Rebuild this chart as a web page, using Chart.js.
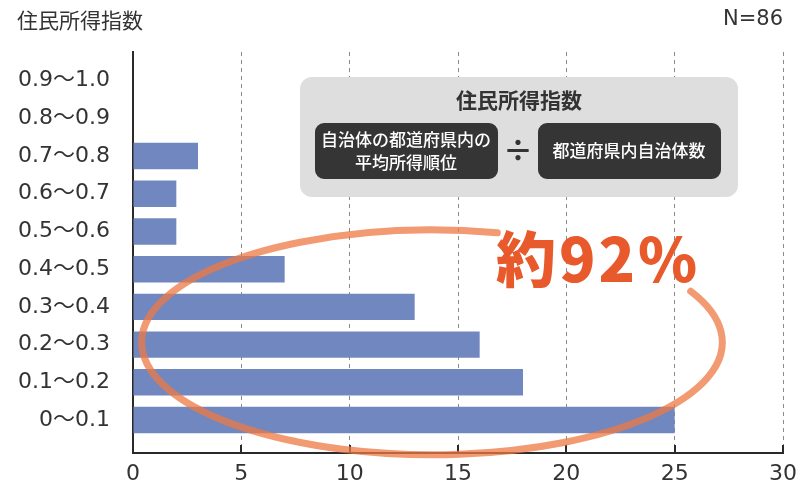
<!DOCTYPE html>
<html lang="ja">
<head>
<meta charset="UTF-8">
<title>住民所得指数</title>
<script src="https://cdn.jsdelivr.net/npm/chart.js@4.4.1/dist/chart.umd.min.js"></script>
<style>
  html, body { margin: 0; padding: 0; background: #fff; }
  #chart { display: block; }
</style>
</head>
<body>
<canvas id="chart" width="802" height="486"></canvas>
<script>
// 区分（下から順）
const categories = ['0～0.1', '0.1～0.2', '0.2～0.3', '0.3～0.4', '0.4～0.5',
                    '0.5～0.6', '0.6～0.7', '0.7～0.8', '0.8～0.9', '0.9～1.0'];
// 自治体数
const counts = [25, 18, 16, 13, 7, 2, 2, 3, 0, 0];
const xTicks = [0, 5, 10, 15, 20, 25, 30];

const titleText = '住民所得指数';
const sampleText = 'N=86';
const formulaTitle = '住民所得指数';
const formulaLeft = ['自治体の都道府県内の', '平均所得順位'];
const formulaRight = '都道府県内自治体数';
const shareText = '約92%';

const NUM_FONT = '"DejaVu Sans", "Noto Sans CJK JP", sans-serif';
const JP_FONT = '"Noto Sans CJK JP", sans-serif';
const TEXT = '#333';
const AXIS = '#2a2a2a';

// 目盛り・見出し・数式ボックス・楕円
const overlay = {
  id: 'overlay',
  afterDatasetsDraw(chart) {
    const ctx = chart.ctx;
    const xs = chart.scales.x;
    const ys = chart.scales.y;
    const area = chart.chartArea;
    ctx.save();

    // 内向きの目盛り
    ctx.strokeStyle = AXIS;
    ctx.lineWidth = 2;
    xs.ticks.forEach(t => {
      const px = Math.round(xs.getPixelForValue(t.value));
      ctx.beginPath();
      ctx.moveTo(px, area.bottom - 8);
      ctx.lineTo(px, area.bottom);
      ctx.stroke();
    });

    // 見出し
    ctx.fillStyle = TEXT;
    ctx.textBaseline = 'middle';
    ctx.font = '21px ' + JP_FONT;
    ctx.textAlign = 'left';
    ctx.fillText(titleText, 17, 20);
    ctx.font = '21px ' + NUM_FONT;
    ctx.textAlign = 'right';
    ctx.fillText(sampleText, 783, 20);

    // 数式ボックス
    ctx.fillStyle = '#dedede';
    ctx.beginPath();
    ctx.roundRect(300, 77, 438, 120, 12);
    ctx.fill();
    ctx.fillStyle = TEXT;
    ctx.textAlign = 'center';
    ctx.font = 'bold 21px ' + JP_FONT;
    ctx.fillText(formulaTitle, 519, 100);

    ctx.fillStyle = '#353535';
    ctx.beginPath();
    ctx.roundRect(315, 123, 183, 56, 9);
    ctx.roundRect(538, 123, 183, 56, 9);
    ctx.fill();
    ctx.fillStyle = '#fff';
    ctx.font = '500 17px ' + JP_FONT;
    ctx.fillText(formulaLeft[0], 406, 140);
    ctx.fillText(formulaLeft[1], 406, 163);
    ctx.fillText(formulaRight, 629, 151);
    ctx.fillStyle = TEXT;
    ctx.font = 'bold 30px ' + JP_FONT;
    ctx.fillText('÷', 518, 150);

    // 楕円（上部は文字のため切れている）
    const cx = xs.getPixelForValue(13.8);
    const cy = ys.getPixelForValue(2.06);
    const rx = xs.getPixelForValue(13.8 + 13.4) - cx;
    const ry = cy - ys.getPixelForValue(2.06 + 2.98);
    ctx.strokeStyle = 'rgba(238, 120, 67, 0.75)';
    ctx.lineWidth = 7;
    ctx.lineCap = 'round';
    ctx.beginPath();
    ctx.ellipse(cx, cy, rx, ry, 0, -27 * Math.PI / 180, 283 * Math.PI / 180);
    ctx.stroke();

    // 約92%
    ctx.fillStyle = '#e85a2c';
    ctx.font = '900 60px ' + JP_FONT;
    ctx.letterSpacing = '3px';
    ctx.textAlign = 'center';
    ctx.fillText(shareText, 598, 259);

    ctx.restore();
  }
};

new Chart(document.getElementById('chart'), {
  type: 'bar',
  data: {
    datasets: [{
      data: counts.map((v, i) => ({ x: v, y: i })),
      backgroundColor: '#7187c0',
      categoryPercentage: 1,
      barPercentage: 0.7
    }]
  },
  options: {
    indexAxis: 'y',
    responsive: false,
    animation: false,
    layout: { padding: { top: 52, right: 19, left: 0, bottom: 0 } },
    plugins: {
      legend: { display: false },
      tooltip: { enabled: false }
    },
    scales: {
      x: {
        type: 'linear',
        min: 0,
        max: 30,
        offset: false,
        afterBuildTicks: s => { s.ticks = xTicks.map(v => ({ value: v })); },
        afterFit: s => { s.height = 33; s.paddingLeft = 0; s.paddingRight = 0; },
        ticks: {
          padding: 8,
          color: TEXT,
          font: { family: NUM_FONT, size: 22 }
        },
        grid: { color: '#8a8a8a', lineWidth: 1, drawTicks: false },
        border: { display: true, color: AXIS, width: 2, dash: [4, 4] }
      },
      y: {
        type: 'linear',
        min: -0.875,
        max: 9.76,
        offset: false,
        afterBuildTicks: s => { s.ticks = categories.map((c, i) => ({ value: i })); },
        afterFit: s => { s.width = 133; s.paddingTop = 0; s.paddingBottom = 0; },
        ticks: {
          padding: 23,
          color: TEXT,
          font: { family: NUM_FONT, size: 22 },
          callback: v => categories[v]
        },
        grid: { display: false, drawTicks: false, offset: false },
        border: { display: true, color: AXIS, width: 2 }
      }
    }
  },
  plugins: [overlay]
});
</script>
</body>
</html>
